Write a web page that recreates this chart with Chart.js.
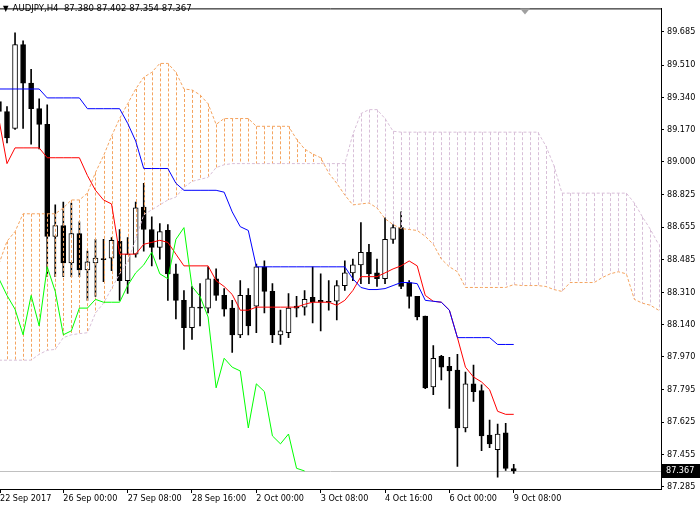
<!DOCTYPE html>
<html>
<head>
<meta charset="utf-8">
<script src="https://cdn.jsdelivr.net/npm/chart.js@4.4.0/dist/chart.umd.min.js"></script>
<style>
  html, body { margin: 0; padding: 0; background: #fff; }
  #wrap { position: relative; width: 700px; height: 505px; }
  #header { position: absolute; left: 3px; top: 2px; font: 9.5px 'DejaVu Sans Condensed', 'DejaVu Sans', sans-serif; color: #000; white-space: pre; }
  #header .tri { font-size: 8px; margin-right: 4px; }
</style>
</head>
<body>
<div id="wrap">
  <canvas id="chart" width="700" height="505"></canvas>
  <div id="header"><span class="tri">▼</span><span id="header-text"></span></div>
</div>
<script>
// AUDJPY H4 candles, bar 0 = 22 Sep 16:00
const symbol = 'AUDJPY,H4';
const opens = [89.317, 89.265, 89.176, 89.618, 89.415, 89.280, 89.197, 88.606, 88.663, 88.465, 88.621, 88.429, 88.465, 88.486, 88.491, 88.580, 88.372, 88.512, 88.761, 88.642, 88.548, 88.637, 88.408, 88.268, 88.123, 88.232, 88.227, 88.382, 88.294, 88.227, 88.086, 88.294, 88.237, 88.445, 88.315, 88.086, 88.097, 88.237, 88.232, 88.284, 88.268, 88.263, 88.263, 88.346, 88.413, 88.455, 88.522, 88.413, 88.382, 88.590, 88.652, 88.362, 88.289, 88.185, 87.811, 87.972, 87.920, 87.900, 87.594, 87.827, 87.791, 87.557, 87.479, 87.568, 87.380];
const highs = [89.368, 89.291, 89.680, 89.638, 89.488, 89.332, 89.301, 88.772, 88.787, 88.782, 88.683, 88.528, 88.590, 88.590, 88.600, 88.642, 88.600, 88.787, 88.886, 88.709, 88.673, 88.668, 88.460, 88.320, 88.341, 88.356, 88.445, 88.434, 88.330, 88.268, 88.372, 88.330, 88.460, 88.476, 88.356, 88.216, 88.304, 88.289, 88.320, 88.445, 88.408, 88.372, 88.372, 88.476, 88.486, 88.678, 88.564, 88.486, 88.704, 88.668, 88.735, 88.372, 88.289, 88.185, 88.029, 87.977, 87.967, 87.983, 87.889, 87.926, 87.822, 87.635, 87.614, 87.619, 87.402];
const lows = [89.213, 89.099, 89.171, 89.176, 89.093, 89.067, 88.393, 88.393, 88.393, 88.393, 88.393, 88.268, 88.289, 88.367, 88.424, 88.268, 88.304, 88.496, 88.528, 88.450, 88.486, 88.268, 88.170, 88.009, 88.061, 88.133, 88.201, 88.268, 88.185, 87.993, 88.071, 88.086, 88.097, 88.201, 88.045, 88.035, 88.071, 88.180, 88.190, 88.149, 88.107, 88.216, 88.164, 88.320, 88.372, 88.356, 88.356, 88.341, 88.356, 88.569, 88.330, 88.227, 88.164, 87.801, 87.770, 87.848, 87.697, 87.391, 87.573, 87.734, 87.474, 87.490, 87.334, 87.370, 87.354];
const closes = [89.265, 89.125, 89.618, 89.415, 89.280, 89.197, 88.606, 88.663, 88.465, 88.621, 88.429, 88.471, 88.491, 88.483, 88.585, 88.372, 88.512, 88.756, 88.642, 88.548, 88.631, 88.408, 88.268, 88.123, 88.232, 88.227, 88.382, 88.294, 88.221, 88.086, 88.294, 88.133, 88.445, 88.315, 88.086, 88.107, 88.227, 88.227, 88.273, 88.258, 88.258, 88.258, 88.346, 88.413, 88.455, 88.522, 88.408, 88.382, 88.590, 88.652, 88.341, 88.289, 88.180, 87.806, 87.962, 87.915, 87.895, 87.594, 87.827, 87.786, 87.552, 87.510, 87.562, 87.381, 87.367];

// Ichimoku lines
const tenkan = [89.223, 88.990, 89.073, 89.073, 89.073, 89.073, 89.021, 89.021, 89.021, 89.021, 89.021, 88.927, 88.849, 88.798, 88.777, 88.512, 88.512, 88.512, 88.564, 88.574, 88.585, 88.574, 88.512, 88.450, 88.450, 88.450, 88.450, 88.372, 88.341, 88.299, 88.216, 88.216, 88.232, 88.232, 88.232, 88.232, 88.232, 88.232, 88.247, 88.258, 88.258, 88.258, 88.242, 88.268, 88.320, 88.393, 88.393, 88.393, 88.413, 88.434, 88.450, 88.476, 88.450, 88.294, 88.263, 88.258, 88.216, 88.071, 87.915, 87.863, 87.837, 87.796, 87.682, 87.666, 87.666];
const kijun = [89.384, 89.384, 89.384, 89.384, 89.384, 89.384, 89.337, 89.337, 89.337, 89.337, 89.337, 89.280, 89.280, 89.280, 89.280, 89.280, 89.203, 89.109, 88.964, 88.964, 88.964, 88.964, 88.886, 88.849, 88.849, 88.849, 88.849, 88.849, 88.839, 88.735, 88.657, 88.637, 88.445, 88.445, 88.445, 88.445, 88.445, 88.445, 88.445, 88.445, 88.445, 88.445, 88.445, 88.445, 88.382, 88.336, 88.325, 88.325, 88.330, 88.346, 88.362, 88.362, 88.356, 88.268, 88.263, 88.258, 88.216, 88.071, 88.071, 88.071, 88.071, 88.071, 88.035, 88.035, 88.035];
const chikou = [88.382, 88.294, 88.221, 88.086, 88.294, 88.133, 88.445, 88.315, 88.086, 88.107, 88.227, 88.227, 88.273, 88.258, 88.258, 88.258, 88.346, 88.413, 88.455, 88.522, 88.408, 88.382, 88.590, 88.652, 88.341, 88.289, 88.180, 87.806, 87.962, 87.915, 87.895, 87.594, 87.827, 87.786, 87.552, 87.510, 87.562, 87.381, 87.367];
const spanA = [88.460, 88.580, 88.631, 88.725, 88.725, 88.725, 88.725, 88.725, 88.756, 88.798, 88.798, 88.834, 88.943, 89.031, 89.135, 89.228, 89.306, 89.384, 89.446, 89.472, 89.519, 89.519, 89.472, 89.384, 89.379, 89.353, 89.306, 89.197, 89.228, 89.228, 89.228, 89.228, 89.187, 89.187, 89.187, 89.187, 89.187, 89.119, 89.067, 89.041, 89.021, 88.940, 88.886, 88.824, 88.772, 88.777, 88.782, 88.756, 88.699, 88.668, 88.647, 88.642, 88.637, 88.606, 88.564, 88.486, 88.445, 88.419, 88.336, 88.336, 88.336, 88.336, 88.336, 88.336, 88.351, 88.346, 88.346, 88.346, 88.341, 88.325, 88.315, 88.362, 88.362, 88.362, 88.362, 88.388, 88.408, 88.419, 88.408, 88.273, 88.253, 88.242, 88.216];
const spanB = [87.952, 87.952, 87.952, 87.952, 87.952, 87.983, 88.004, 88.009, 88.071, 88.086, 88.092, 88.097, 88.201, 88.253, 88.330, 88.408, 88.471, 88.590, 88.720, 88.746, 88.772, 88.798, 88.813, 88.865, 88.896, 88.907, 88.917, 88.969, 88.984, 88.990, 88.990, 88.990, 88.990, 88.990, 88.990, 88.990, 88.990, 88.990, 88.990, 88.990, 88.990, 88.990, 88.990, 88.990, 89.145, 89.254, 89.275, 89.275, 89.228, 89.161, 89.156, 89.156, 89.156, 89.156, 89.156, 89.156, 89.156, 89.156, 89.156, 89.156, 89.156, 89.156, 89.156, 89.156, 89.156, 89.156, 89.156, 89.156, 89.083, 88.979, 88.834, 88.834, 88.834, 88.834, 88.834, 88.834, 88.834, 88.834, 88.834, 88.782, 88.709, 88.642, 88.564];

// axis labels
const timeTicks = [0, 8, 16, 24, 32, 40, 48, 56, 64];
const timeLabels = ['22 Sep 2017', '26 Sep 00:00', '27 Sep 08:00', '28 Sep 16:00', '2 Oct 00:00', '3 Oct 08:00', '4 Oct 16:00', '6 Oct 00:00', '9 Oct 08:00'];
const priceTicks = [89.685, 89.510, 89.340, 89.170, 89.000, 88.825, 88.655, 88.485, 88.310, 88.140, 87.970, 87.795, 87.625, 87.455, 87.285];

const last = closes.length - 1;
const lastPrice = closes[last];
const upCloud = '#F4A460';   // SandyBrown
const downCloud = '#D8BFD8'; // Thistle
const axisFont = { family: "'DejaVu Sans Condensed', 'DejaVu Sans', sans-serif", size: 9 };

document.getElementById('header-text').textContent =
    symbol + '  ' + [opens[last], highs[last], lows[last], closes[last]].map(v => v.toFixed(3)).join(' ');

const toXY = arr => arr.map((v, i) => ({ x: i, y: v }));

// dotted histogram between the two senkou spans
const cloudHatch = {
    id: 'cloudHatch',
    afterDatasetDraw(chart, args) {
        if (args.index !== 1) return; // right after candle bodies
        const { ctx, chartArea, scales: { x, y } } = chart;
        ctx.save();
        ctx.beginPath();
        ctx.rect(chartArea.left, chartArea.top, chartArea.width, chartArea.height);
        ctx.clip();
        ctx.lineWidth = 1;
        ctx.setLineDash([3, 2]);
        spanA.forEach((a, i) => {
            const b = spanB[i];
            const px = Math.round(x.getPixelForValue(i)) + 0.5;
            ctx.strokeStyle = a >= b ? upCloud : downCloud;
            ctx.beginPath();
            ctx.moveTo(px, y.getPixelForValue(Math.max(a, b)));
            ctx.lineTo(px, y.getPixelForValue(Math.min(a, b)));
            ctx.stroke();
        });
        ctx.restore();
    }
};

// bid line, price tag, frame top, chart shift marker
const priceMarker = {
    id: 'priceMarker',
    beforeDatasetsDraw(chart) {
        const { ctx, chartArea, scales: { y } } = chart;
        const py = Math.round(y.getPixelForValue(lastPrice)) + 0.5;
        ctx.save();
        ctx.strokeStyle = '#c0c0c0';
        ctx.lineWidth = 1;
        ctx.beginPath();
        ctx.moveTo(chartArea.left, py);
        ctx.lineTo(chartArea.right, py);
        ctx.stroke();
        ctx.restore();
    },
    afterDraw(chart) {
        const { ctx, chartArea, scales: { x, y } } = chart;
        ctx.save();
        ctx.strokeStyle = '#000';
        ctx.lineWidth = 1;
        ctx.beginPath();
        ctx.moveTo(chartArea.left, chartArea.top + 0.5);
        ctx.lineTo(chartArea.right, chartArea.top + 0.5);
        ctx.stroke();

        const py = Math.round(y.getPixelForValue(lastPrice));
        ctx.fillStyle = '#000';
        ctx.fillRect(chartArea.right + 1, py - 7, 39, 14);
        ctx.fillStyle = '#fff';
        ctx.font = axisFont.size + 'px ' + axisFont.family;
        ctx.textBaseline = 'middle';
        ctx.fillText(lastPrice.toFixed(3), chartArea.right + 5, py);

        const sx = x.getPixelForValue(last + 1.4);
        ctx.fillStyle = '#a0a0a0';
        ctx.beginPath();
        ctx.moveTo(sx - 5, chartArea.top);
        ctx.lineTo(sx + 5, chartArea.top);
        ctx.lineTo(sx, chartArea.top + 6);
        ctx.closePath();
        ctx.fill();
        ctx.restore();
    }
};

const lineDs = (label, data, color, order, dash) => ({
    type: 'line', label, data: toXY(data), borderColor: color, borderWidth: 1,
    borderDash: dash || [], pointRadius: 0, tension: 0, fill: false, order
});

new Chart(document.getElementById('chart'), {
    type: 'bar',
    data: {
        datasets: [
            {
                label: 'wicks',
                data: lows.map((l, i) => ({ x: i, y: [l, highs[i]] })),
                backgroundColor: '#000', barThickness: 1, grouped: false, order: 10
            },
            {
                label: 'bodies',
                data: opens.map((o, i) => ({ x: i, y: [o, closes[i]] })),
                backgroundColor: opens.map((o, i) => closes[i] >= o ? '#fff' : '#000'),
                borderColor: '#000', borderWidth: 1, borderSkipped: false,
                barThickness: 5, minBarLength: 1, grouped: false, order: 9
            },
            lineDs('Senkou Span B', spanB, downCloud, 6, [3, 2]),
            lineDs('Senkou Span A', spanA, upCloud, 5, [3, 2]),
            lineDs('Tenkan-sen', tenkan, '#ff0000', 4),
            lineDs('Kijun-sen', kijun, '#0000ff', 3),
            lineDs('Chikou Span', chikou, '#00ff00', 2)
        ]
    },
    options: {
        responsive: false,
        animation: false,
        events: [],
        layout: { padding: 0 },
        plugins: { legend: { display: false }, tooltip: { enabled: false } },
        scales: {
            x: {
                type: 'linear',
                position: 'bottom',
                offset: false,
                min: 0.13,
                max: 82.31,
                afterFit: s => { s.height = 16; },
                afterBuildTicks: s => { s.ticks = timeTicks.map(v => ({ value: Math.max(v, s.min) })); },
                ticks: {
                    autoSkip: false, maxRotation: 0, align: 'start', padding: 0,
                    color: '#000', font: axisFont,
                    callback: (v, idx) => timeLabels[idx]
                },
                grid: { offset: false, drawOnChartArea: false, drawTicks: true, tickLength: 4, color: '#000' },
                border: { display: true, color: '#000' }
            },
            y: {
                type: 'linear',
                position: 'right',
                min: 87.2717,
                max: 89.8096,
                afterFit: s => { s.width = 39; },
                afterBuildTicks: s => { s.ticks = priceTicks.map(v => ({ value: v })); },
                ticks: {
                    autoSkip: false, padding: 3, color: '#000', font: axisFont,
                    callback: v => v.toFixed(3)
                },
                grid: { drawOnChartArea: false, drawTicks: true, tickLength: 3, color: '#000' },
                border: { display: true, color: '#000' }
            }
        }
    },
    plugins: [cloudHatch, priceMarker]
});
</script>
</body>
</html>
